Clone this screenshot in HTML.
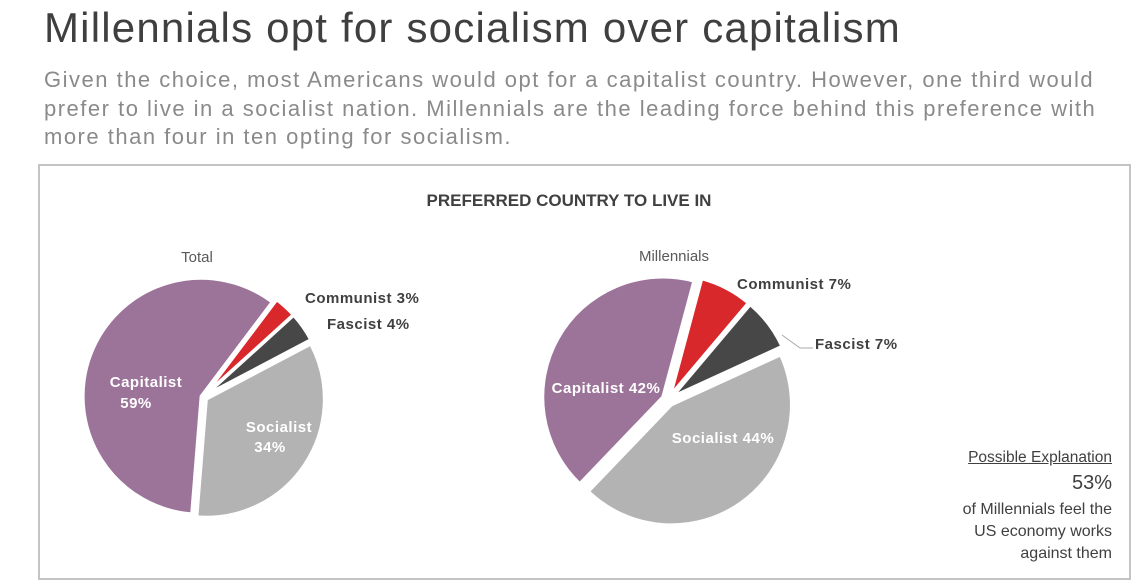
<!DOCTYPE html>
<html><head><meta charset="utf-8"><style>
body{margin:0;width:1139px;height:587px;background:#fff;font-family:"Liberation Sans",sans-serif;position:relative;overflow:hidden}
.t{position:absolute;white-space:nowrap}
</style></head><body>
<div class="t" style="left:44px;top:4px;font-size:42px;color:#3f3f3f;letter-spacing:1.2px">Millennials opt for socialism over capitalism</div>
<div class="t" style="left:44px;top:66px;font-size:22px;line-height:28.5px;color:#8a8a8a;letter-spacing:1.5px">Given the choice, most Americans would opt for a capitalist country. However, one third would<br>prefer to live in a socialist nation. Millennials are the leading force behind this preference with<br>more than four in ten opting for socialism.</div>
<div style="position:absolute;left:38px;top:164px;width:1089px;height:412px;border:2px solid #c4c4c4"></div>
<svg id="svg" width="1139" height="587" style="position:absolute;left:0;top:0">
<text x="569" y="206" text-anchor="middle" font-size="17" font-weight="bold" fill="#404040">PREFERRED COUNTRY TO LIVE IN</text>
<text x="197" y="262" text-anchor="middle" font-size="15" fill="#595959">Total</text>
<text x="674" y="261" text-anchor="middle" font-size="15" fill="#595959">Millennials</text>
<polyline points="782,335 800,348 813,348" fill="none" stroke="#aaa" stroke-width="1"/>
<g font-size="15" font-weight="bold" fill="#404040" letter-spacing="0.5">
<text x="305" y="303">Communist  3%</text>
<text x="327" y="329">Fascist  4%</text>
<text x="737" y="289">Communist  7%</text>
<text x="815" y="349">Fascist  7%</text>
</g>
<g font-size="15" font-weight="bold" fill="#fff" letter-spacing="0.5">
<text x="146" y="387" text-anchor="middle">Capitalist</text>
<text x="136" y="408" text-anchor="middle">59%</text>
<text x="279" y="432" text-anchor="middle">Socialist</text>
<text x="270" y="452" text-anchor="middle">34%</text>
<text x="606" y="393" text-anchor="middle">Capitalist  42%</text>
<text x="723" y="443" text-anchor="middle">Socialist  44%</text>
</g>
</svg>
<div class="t" style="right:27px;top:449px;font-size:15.5px;color:#404040;text-decoration:underline">Possible Explanation</div>
<div class="t" style="right:27px;top:472px;font-size:20px;color:#404040">53%</div>
<div class="t" style="right:27px;top:499px;font-size:16px;line-height:22px;color:#404040;text-align:right">of Millennials feel the<br>US economy works<br>against them</div>
<script>
const categories=["Communist","Fascist","Socialist","Capitalist"];
const totalValues=[3,4,34,59];
const millennialValues=[7,7,44,42];
const colors=["#d9282b","#474747","#b3b3b3","#9c7399"];
const svg=document.getElementById('svg');
function drawPie(vals,cx,cy,r,start,prefix,explode){
  let a=start;
  const total=vals.reduce((s,v)=>s+v,0);
  vals.forEach((v,i)=>{
    const sweep=v/total*360;
    const mid=(a+sweep/2)*Math.PI/180;
    const ox=cx+Math.sin(mid)*explode[i], oy=cy-Math.cos(mid)*explode[i];
    const a0=a*Math.PI/180,a1=(a+sweep)*Math.PI/180;
    const x0=ox+r*Math.sin(a0),y0=oy-r*Math.cos(a0),x1=ox+r*Math.sin(a1),y1=oy-r*Math.cos(a1);
    const p=document.createElementNS('http://www.w3.org/2000/svg','path');
    p.setAttribute('d',`M${ox},${oy}L${x0},${y0}A${r},${r} 0 ${sweep>180?1:0} 1 ${x1},${y1}Z`);
    p.setAttribute('fill',colors[i]);
    p.setAttribute('stroke','#fff');
    p.setAttribute('stroke-width','3');
    
    
    svg.insertBefore(p,svg.children[3]);
    a+=sweep;
  });
}
drawPie(totalValues,203,397,118,37,'total',[4,4,4,2]);
drawPie(millennialValues,668,400,120,15,'millennials',[6,6,6,6]);
</script>
</body></html>
